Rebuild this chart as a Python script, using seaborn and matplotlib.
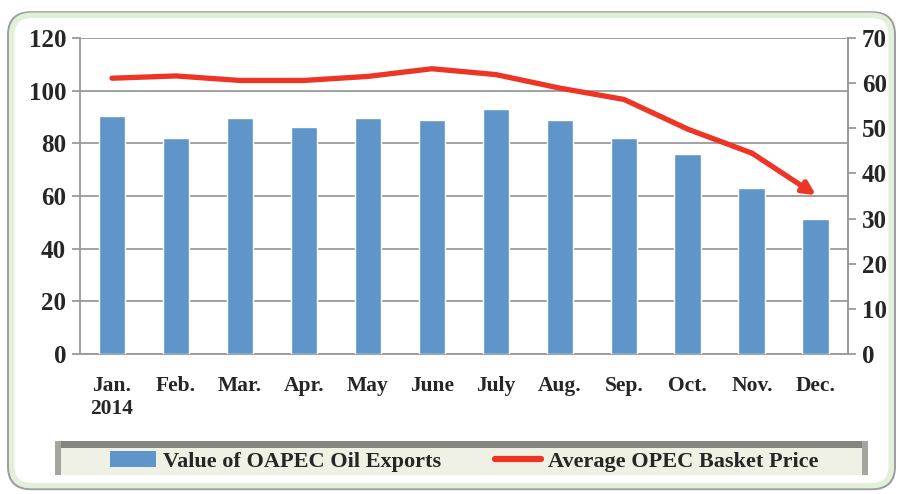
import numpy as np
import pandas as pd
import matplotlib.pyplot as plt
import seaborn as sns
from matplotlib.patches import FancyBboxPatch, Rectangle
from matplotlib.lines import Line2D
from matplotlib.patches import Patch

months = ['Jan.\n2014', 'Feb.', 'Mar.', 'Apr.', 'May', 'June', 'July',
          'Aug.', 'Sep.', 'Oct.', 'Nov.', 'Dec.']
exports = [90.4, 82.0, 89.6, 86.2, 89.6, 88.7, 93.0, 88.7, 82.0, 76.0, 63.0, 51.3]
basket_price = [61.1, 61.6, 60.6, 60.6, 61.5, 63.2, 61.9, 58.9, 56.4, 49.8, 44.5, 35.2]

df = pd.DataFrame({'month': months, 'exports': exports, 'price': basket_price})

sns.set_style('white')
plt.rcParams['font.family'] = ['Liberation Serif', 'DejaVu Serif']
plt.rcParams['font.weight'] = 'bold'

fig = plt.figure(figsize=(9.03, 4.94), dpi=100)

# rounded outer frame
frame = FancyBboxPatch((0.009, 0.01), 0.982, 0.965, boxstyle='round,pad=0,rounding_size=0.025',
                       transform=fig.transFigure, facecolor='white', edgecolor='#9c9c9c',
                       lw=1.6, mutation_aspect=903 / 494, zorder=-3)
fig.patches.append(frame)
glow = FancyBboxPatch((0.013, 0.017), 0.974, 0.952, boxstyle='round,pad=0,rounding_size=0.022',
                      transform=fig.transFigure, facecolor='none', edgecolor='#e2efd9',
                      lw=4, mutation_aspect=903 / 494, zorder=-2)
fig.patches.append(glow)

ax = fig.add_axes([0.0886, 0.2834, 0.8504, 0.6396])
ax.set_zorder(2)
ax.patch.set_alpha(0)
blue = '#6095c9'
red = '#ee3424'
grid = '#9a9a9a'

sns.barplot(data=df, x='month', y='exports', color=blue, width=0.42,
            saturation=1, ax=ax, zorder=3)
ax.set_xlim(-0.5, 11.5)
ax.set_ylim(0, 120)
ax.set_yticks(range(0, 121, 20))
ax.yaxis.grid(True, color=grid, lw=1.3, zorder=0)
ax.set_axisbelow(True)
ax.set_xlabel('')
ax.set_ylabel('')

for s in ['left', 'bottom', 'right']:
    ax.spines[s].set_color(grid)
    ax.spines[s].set_linewidth(1.3)
ax.spines['top'].set_visible(False)

ax.tick_params(axis='y', labelsize=18, length=6, width=1.3, color=grid, pad=4)
ax.tick_params(axis='x', which='major', length=0, labelsize=15.5, pad=16)
ax.set_xticks(np.arange(-0.5, 12, 1), minor=True)
ax.tick_params(axis='x', which='minor', length=6, width=1.3, color=grid)
for lab in ax.get_xticklabels() + ax.get_yticklabels():
    lab.set_fontweight('bold')

ax2 = ax.twinx()
ax2.set_zorder(3)
ax2.patch.set_alpha(0)
x_pos = np.arange(len(months))
sns.lineplot(x=x_pos[:-1], y=basket_price[:-1], color=red, lw=3.8, ax=ax2,
             solid_capstyle='round', solid_joinstyle='round', zorder=4)
# last segment with arrowhead
ax2.annotate('', xy=(x_pos[-1], basket_price[-1]), xytext=(x_pos[-2], basket_price[-2]),
             arrowprops=dict(arrowstyle='-|>,head_length=0.75,head_width=0.38',
                             color=red, lw=3.8, shrinkA=0, shrinkB=0))
ax2.set_ylim(0, 70)
ax2.set_yticks(range(0, 71, 10))
ax2.tick_params(axis='y', labelsize=18, length=6, width=1.3, color=grid, pad=4)
for lab in ax2.get_yticklabels():
    lab.set_fontweight('bold')
for s in ['left', 'bottom', 'top']:
    ax2.spines[s].set_visible(False)
ax2.spines['right'].set_color(grid)
ax2.spines['right'].set_linewidth(1.3)
ax2.set_ylabel('')

# legend panel
panel = Rectangle((0.061, 0.038), 0.900, 0.068, transform=fig.transFigure,
                  facecolor='#eef1e3', edgecolor='none', zorder=-1)
fig.patches.append(panel)
top_band = Rectangle((0.061, 0.094), 0.900, 0.014, transform=fig.transFigure,
                     facecolor='#858580', edgecolor='none', zorder=-1)
fig.patches.append(top_band)
for xl in (0.061, 0.955):
    fig.patches.append(Rectangle((xl, 0.038), 0.006, 0.07, transform=fig.transFigure,
                                 facecolor='#a5a59f', edgecolor='none', zorder=-1))

handles = [Patch(facecolor=blue, edgecolor='none'),
           Line2D([0], [0], color=red, lw=4.5, solid_capstyle='round')]
fig.legend(handles, ['Value of OAPEC Oil Exports', 'Average OPEC Basket Price'],
           loc='center', bbox_to_anchor=(0.514, 0.066), ncol=2, frameon=False,
           prop={'size': 16, 'weight': 'bold'}, handlelength=2.1, handleheight=0.7,
           columnspacing=2.4, handletextpad=0.3)

fig.savefig('out.png', dpi=100)
